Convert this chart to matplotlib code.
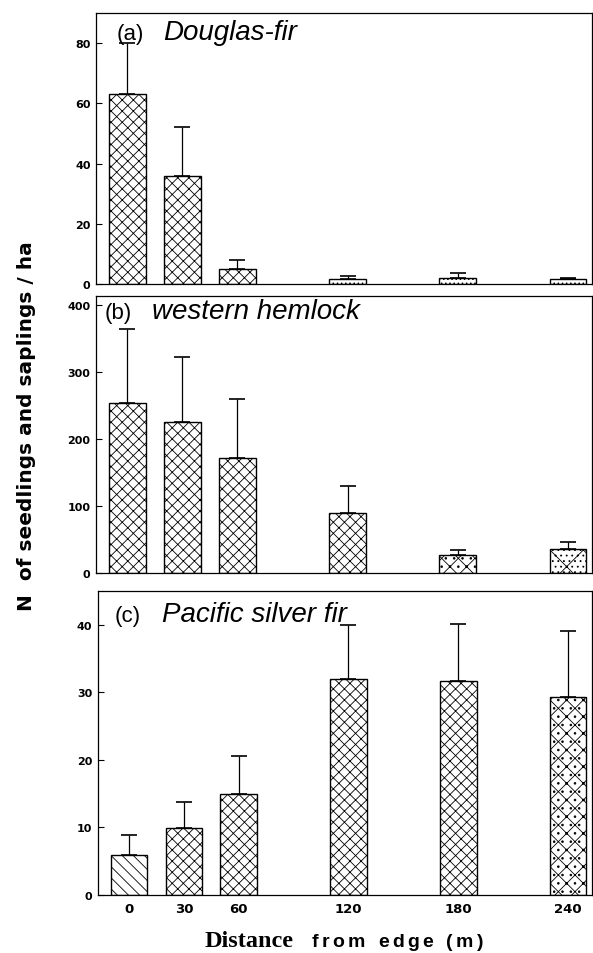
import matplotlib
matplotlib.use("Agg")
import matplotlib.pyplot as plt
import numpy as np

plt.rcParams['hatch.linewidth'] = 0.6

distances = [0, 30, 60, 120, 180, 240]
tick_labels = ["0", "30", "60", "120", "180", "240"]

douglas_mean = [63, 36, 5, 1.5, 2, 1.5]
douglas_se = [17, 16, 3, 1.0, 1.5, 0.6]
douglas_hatch = ["xxx", "xxx", "xxx", "....", "....", "...."]

hemlock_mean = [254, 225, 172, 90, 27, 36]
hemlock_se = [110, 97, 88, 40, 7, 10]
hemlock_hatch = ["xxx", "xxx", "xxx", "xxx", "xx..", "x..."]

silver_mean = [5.9, 9.9, 15.0, 31.9, 31.7, 29.3]
silver_se = [3.0, 3.9, 5.6, 8.0, 8.4, 9.7]
silver_hatch = ["\\\\\\", "xxx", "xxx", "xxx", "xxx", "xx.."]

panels = [
    ("(a)", "Douglas-fir", douglas_mean, douglas_se, douglas_hatch, [0, 20, 40, 60, 80], 90),
    ("(b)", "western hemlock", hemlock_mean, hemlock_se, hemlock_hatch, [0, 100, 200, 300, 400], 413),
    ("(c)", "Pacific silver fir", silver_mean, silver_se, silver_hatch, [0, 10, 20, 30, 40], 45),
]

W, H = 593, 954
fig = plt.figure(figsize=(W / 100, H / 100), dpi=100)
rects = [
    [0.162, 0.7013, 0.836, 0.2840],
    [0.162, 0.3983, 0.836, 0.2904],
    [0.165, 0.0608, 0.833, 0.3187],
]
# label x positions (px) and text baseline (px)
label_pos = [(117, 163, 40), (105, 152, 319), (115, 162, 622)]

for rect, (lab, name, mean, se, hatches, yt, ytop), (lx, nx, by) in zip(rects, panels, label_pos):
    ax = fig.add_axes(rect)
    for x, m, e, h in zip(distances, mean, se, hatches):
        ax.bar(x, m, width=20, color="white", edgecolor="black",
               linewidth=1.0, hatch=h, zorder=2)
        ax.errorbar(x, m, yerr=[[0], [e]], fmt="none", ecolor="black",
                    elinewidth=0.9, capsize=5.5, capthick=1.2, zorder=3)
    ax.set_xlim(-17, 253)
    ax.set_ylim(0, ytop)
    ax.set_yticks(yt)
    ax.set_yticklabels([str(v) for v in yt], fontsize=8, fontweight="bold")
    ax.tick_params(axis="y", direction="in", length=4, width=0.8, pad=4)
    ax.set_xticks(distances)
    if lab == "(c)":
        ax.set_xticklabels(tick_labels, fontsize=9.5, fontweight="bold")
        ax.tick_params(axis="x", length=0, pad=5)
    else:
        ax.set_xticklabels([])
        ax.tick_params(axis="x", length=0)
    for s in ax.spines.values():
        s.set_linewidth(0.9)
    fig.text(lx / W, 1 - by / H, lab, fontsize=16, va="baseline", ha="left",
             family="Liberation Sans")
    fig.text(nx / W, 1 - by / H, name, fontsize=20, va="baseline", ha="left",
             style="italic", family="Liberation Sans")

fig.text(205 / W, 1 - 947 / H, "Distance", ha="left", va="baseline",
         fontsize=17.5, fontweight="bold", family="Liberation Serif")

# letter-spaced "from edge (m)"
renderer = fig.canvas.get_renderer()
spaced = "from edge (m)"
x0, x1 = 312, 483
kw = dict(fontsize=14, fontweight="bold", family="Liberation Sans", va="baseline", ha="left")
widths = []
for ch in spaced:
    t = fig.text(0, 0, ch if ch != " " else "n", **kw)
    bb = t.get_window_extent(renderer)
    widths.append(bb.width * (0.55 if ch == " " else 1.0))
    t.remove()
gap = (x1 - x0 - sum(widths)) / (len(spaced) - 1)
xp = x0
for ch, w in zip(spaced, widths):
    if ch != " ":
        fig.text(xp / W, 1 - 947 / H, ch, **kw)
    xp += w + gap

fig.text(0.044, 1 - 426 / H, "N  of seedlings and saplings / ha", rotation=90,
         ha="center", va="center", fontsize=14.5, fontweight="bold",
         family="DejaVu Sans")

fig.savefig("out.png", dpi=100)
